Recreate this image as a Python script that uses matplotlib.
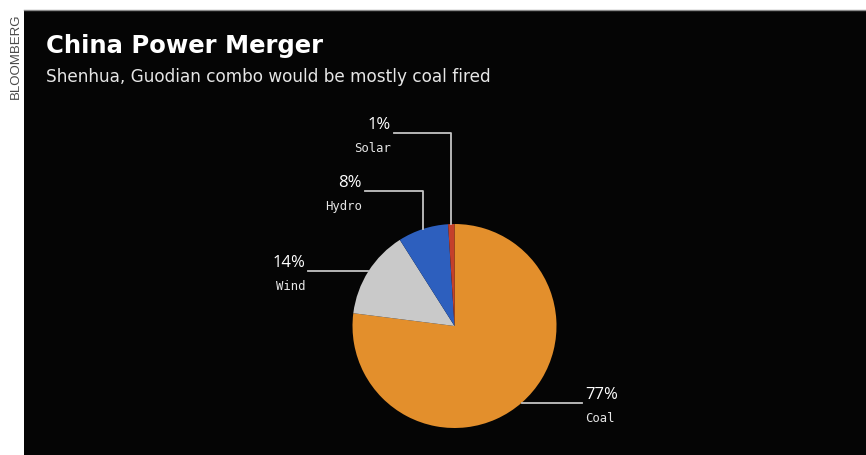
import numpy as np
import matplotlib
matplotlib.use("Agg")
import matplotlib.pyplot as plt
from matplotlib.patches import Rectangle

# Data
labels = ["Coal", "Wind", "Hydro", "Solar"]
shares = [77, 14, 8, 1]
colors = ["#E38F2C", "#C9C9C9", "#2D5FBE", "#C4402B"]

W, H = 866, 455
fig = plt.figure(figsize=(W / 100, H / 100), dpi=100, facecolor="white")
ax = fig.add_axes([0, 0, 1, 1])

# black panel
ax.add_patch(Rectangle((24, 0), W - 24, H - 10, facecolor="#050505", edgecolor="none", zorder=0))
ax.plot([24, W], [H - 10, H - 10], color="#8a8a8a", lw=1, zorder=1)
fig.text(16 / W, 1 - 56 / H, "BLOOMBERG", rotation=90, color="#4a4a4a", fontsize=9.5,
         ha="center", va="center", family="Liberation Sans")

fig.text(46 / W, 1 - 53.5 / H, "China Power Merger", color="white", fontsize=17.5,
         fontweight="bold", ha="left", va="baseline", family="DejaVu Sans")
fig.text(46 / W, 1 - 82.5 / H, "Shenhua, Guodian combo would be mostly coal fired",
         color="#e6e6e6", fontsize=12.2, ha="left", va="baseline", family="DejaVu Sans")

cx, cy, r = 454.5, H - 326, 102
wedges, _ = ax.pie(shares, colors=colors, startangle=90, counterclock=False,
                   center=(cx, cy), radius=r, frame=True,
                   wedgeprops=dict(linewidth=0))
ax.set_xlim(0, W)
ax.set_ylim(0, H)
ax.set_aspect("equal")
ax.axis("off")

# leader lines from each wedge's midpoint on the rim
line_col = "#c4c4c4"
for w, lab, val in zip(wedges, labels, shares):
    ang = np.deg2rad((w.theta1 + w.theta2) / 2)
    px, py = cx + r * np.cos(ang), cy + r * np.sin(ang)
    if lab == "Solar":
        ey = H - 133
        ax.plot([px, px, 394], [py, ey, ey], color=line_col, lw=1.3)
        tx, ha = 391, "right"
    elif lab == "Hydro":
        ey = H - 191
        ax.plot([px, px, 365], [py, ey, ey], color=line_col, lw=1.3)
        tx, ha = 362, "right"
    elif lab == "Wind":
        ey = py
        ax.plot([px, 308], [ey, ey], color=line_col, lw=1.3)
        tx, ha = 305, "right"
    else:
        ey = py
        ax.plot([px, 582], [ey, ey], color=line_col, lw=1.3)
        tx, ha = 585, "left"
    ax.text(tx, ey + 4, f"{val}%", color="white", fontsize=12,
            ha=ha, va="baseline", family="Open Sans")
    ax.text(tx, ey - 19, lab, color="#e6e6e6", fontsize=8.8,
            ha=ha, va="baseline", family="DejaVu Sans Mono")

fig.savefig("out.png", dpi=100, facecolor="white")
